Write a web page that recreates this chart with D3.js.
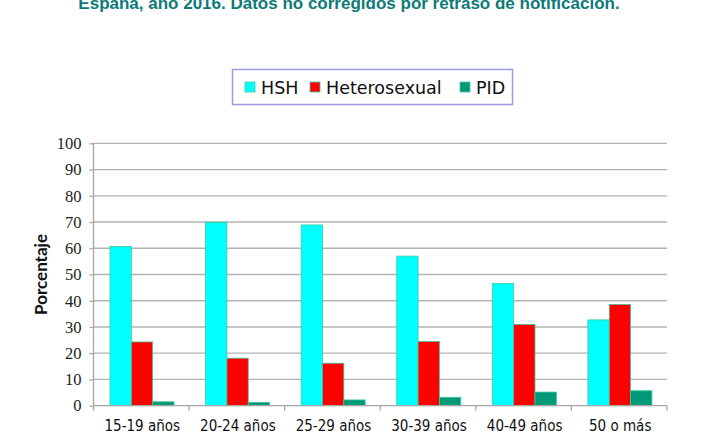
<!DOCTYPE html>
<html><head><meta charset="utf-8">
<script src="https://cdn.jsdelivr.net/npm/d3@7"></script>
<style>html,body{margin:0;padding:0;background:#fff;overflow:hidden}</style>
</head><body><svg id="c" width="710" height="434"></svg>
<script>
const categories = ["15-19 años","20-24 años","25-29 años","30-39 años","40-49 años","50 o más"];
const seriesNames = ["HSH","Heterosexual","PID"];
const hsh = [60.7, 69.9, 68.9, 57.0, 46.6, 32.7];
const hetero = [24.3, 18.1, 16.2, 24.5, 31.0, 38.6];
const pid = [1.5, 1.3, 2.2, 3.2, 5.2, 5.7];
const yTicks = [0,10,20,30,40,50,60,70,80,90,100];
const colors = ["#00ffff","#ff0000","#009977"];
const title = "España, año 2016. Datos no corregidos por retraso de notificación.";

(function(){
const series = [hsh, hetero, pid];
const svg = d3.select("#c");
const pL = 93.5, pR = 667, pT = 143.3, pB = 405.7;

svg.append("text").attr("x", 349).attr("y", 8.5).attr("text-anchor","middle")
  .attr("font-family","Liberation Sans, Arial, sans-serif").attr("font-weight","bold")
  .attr("font-size", 17).attr("fill","#0d7a78").text(title);

const x = d3.scaleBand().domain(categories).range([pL, pR]).paddingInner(0).paddingOuter(0);
const x1 = d3.scaleBand().domain(d3.range(3)).range([16.5, 80.5]);
const y = d3.scaleLinear().domain([0,100]).range([pB, pT]);

// grid
svg.append("g").selectAll("line").data(yTicks.filter(d=>d>0)).join("line")
  .attr("x1", pL).attr("x2", pR).attr("y1", d=>y(d)).attr("y2", d=>y(d))
  .attr("stroke","#b3b3b3").attr("stroke-width",1.3);

// bars
const g = svg.append("g");
series.forEach((vals, si) => {
  g.selectAll(null).data(vals).join("rect")
    .attr("x", (d,i)=> x(categories[i]) + x1(si))
    .attr("width", x1.bandwidth())
    .attr("y", d=> y(d))
    .attr("height", d=> y(0)-y(d))
    .attr("fill", colors[si])
    .attr("stroke", "#3cc9a0").attr("stroke-width", 0.8);
});

// y axis
const yAxis = d3.axisLeft(y).tickValues(yTicks).tickSize(4).tickPadding(8);
const ya = svg.append("g").attr("transform", `translate(${pL},0)`).call(yAxis);
ya.select(".domain").attr("stroke","#a6a6a6").attr("stroke-width",1.3).attr("d", `M0,${pT}V${pB+4}`);
ya.selectAll(".tick line").attr("stroke","#a6a6a6").attr("stroke-width",1.3);
ya.selectAll("text").attr("font-family","Liberation Serif, serif").attr("font-size",16.5).attr("fill","#222");

// x axis
const xa = svg.append("g").attr("transform", `translate(0,${pB})`);
xa.append("line").attr("x1", pL).attr("x2", pR).attr("stroke","#a6a6a6").attr("stroke-width",1.3);
xa.selectAll(".ct").data(d3.range(categories.length+1)).join("line")
  .attr("x1", i=> pL + i*x.bandwidth()).attr("x2", i=> pL + i*x.bandwidth())
  .attr("y1",0).attr("y2",5).attr("stroke","#a6a6a6").attr("stroke-width",1.3);
xa.selectAll("text").data(categories).join("text")
  .attr("x", d=> x(d)+x.bandwidth()/2+1).attr("y", 25)
  .attr("text-anchor","middle").attr("font-family","DejaVu Sans Condensed, DejaVu Sans, sans-serif")
  .attr("font-size",15).attr("fill","#111").text(d=>d);

// y label
svg.append("text").attr("transform", `translate(47,${(pT+pB)/2}) rotate(-90)`)
  .attr("text-anchor","middle").attr("font-family","Lato, sans-serif").attr("font-weight","bold")
  .attr("font-size",17).attr("fill","#111").text("Porcentaje");

// legend
const lg = svg.append("g");
lg.append("rect").attr("x",232.5).attr("y",69.5).attr("width",280).attr("height",35)
  .attr("fill","#fff").attr("stroke","#9a9ae6").attr("stroke-width",1.5);
const legX = [245, 310, 460];
seriesNames.forEach((n,i)=>{
  lg.append("rect").attr("x",legX[i]).attr("y",82).attr("width",10).attr("height",10)
    .attr("fill",colors[i]).attr("stroke","#3cc9a0").attr("stroke-width",0.8);
  lg.append("text").attr("x",legX[i]+16).attr("y",94).attr("font-family","DejaVu Sans, sans-serif")
    .attr("font-size",17.5).attr("fill","#111").text(n);
});
})();
</script></body></html>
